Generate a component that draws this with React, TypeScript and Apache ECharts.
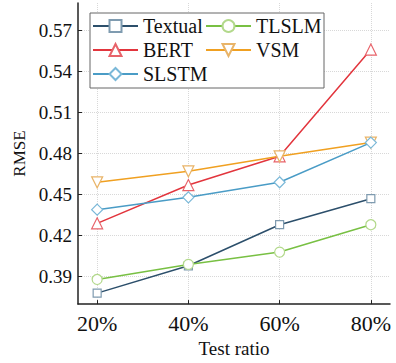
import React, { useEffect, useRef } from "react";
import * as echarts from "echarts";

const ratios = [20, 40, 60, 80];
const xTicks = [20, 40, 60, 80];
const yTicks = [0.39, 0.42, 0.45, 0.48, 0.51, 0.54, 0.57];
const textual = [0.378, 0.398, 0.428, 0.447];
const tlslm = [0.388, 0.399, 0.408, 0.428];
const bert = [0.429, 0.457, 0.478, 0.556];
const vsm = [0.459, 0.467, 0.478, 0.488];
const slstm = [0.439, 0.448, 0.459, 0.488];

const FONT = "Times New Roman, Liberation Serif, DejaVu Serif, serif";

export default function App() {
  const ref = useRef<HTMLDivElement>(null);
  useEffect(() => {
    const chart = echarts.init(ref.current!, undefined, { renderer: "svg" });
    const mk = (name: string, vals: number[], color: string, mcolor: string, symbol: string, size: number) => ({
      name,
      type: "line",
      data: ratios.map((r, i) => [r, vals[i]]),
      symbol,
      symbolSize: size,
      showAllSymbol: true,
      lineStyle: { color, width: 1.5 },
      itemStyle: { color: "#fff", borderColor: mcolor, borderWidth: 1.2 },
      emphasis: { disabled: true },
    });
    const legendCommon = {
      orient: "vertical",
      padding: 0,
      itemWidth: 45,
      itemHeight: 15,
      itemGap: 4,
      textStyle: { fontFamily: FONT, fontSize: 20, color: "#111", lineHeight: 20 },
      selectedMode: false,
    };
    chart.setOption({
      animation: false,
      textStyle: { fontFamily: FONT },
      grid: { left: 78, top: 3, right: 6, bottom: 52 },
      graphic: [
        {
          type: "rect",
          shape: { x: 90, y: 13, width: 234, height: 75 },
          style: { fill: "#fff", stroke: "#666", lineWidth: 1 },
          z: 10,
        },
      ],
      legend: [
        { ...legendCommon, left: 92, top: 16, data: ["Textual", "BERT", "SLSTM"], z: 20 },
        { ...legendCommon, left: 205, top: 16, data: ["TLSLM", "VSM"], z: 20 },
      ],
      xAxis: {
        type: "value",
        min: 15.8,
        max: 84.2,
        name: "Test ratio",
        nameLocation: "middle",
        nameGap: 28,
        nameTextStyle: { fontFamily: FONT, fontSize: 19, color: "#111" },
        axisLine: { lineStyle: { color: "#222", width: 1.5 } },
        axisTick: { customValues: xTicks, inside: true, length: 4, lineStyle: { color: "#222" } },
        axisLabel: {
          customValues: xTicks,
          formatter: (v: number) => v + "%",
          fontFamily: FONT,
          fontSize: 22,
          color: "#111",
          margin: 8,
        },
        splitLine: { show: true, lineStyle: { color: "#d8d8d8", type: "dotted", width: 1 } },
      },
      yAxis: {
        type: "value",
        min: 0.37,
        max: 0.59,
        name: "RMSE",
        nameLocation: "middle",
        nameGap: 47,
        nameTextStyle: { fontFamily: FONT, fontSize: 17, color: "#111" },
        axisLine: { show: true, lineStyle: { color: "#222", width: 1.5 } },
        axisTick: { show: true, customValues: yTicks, inside: true, length: 4, lineStyle: { color: "#222" } },
        axisLabel: {
          customValues: yTicks,
          formatter: (v: number) => v.toFixed(2),
          fontFamily: FONT,
          fontSize: 19,
          color: "#111",
          margin: 6,
        },
        splitLine: { show: true, lineStyle: { color: "#d8d8d8", type: "dotted", width: 1 } },
      },
      series: [
        mk("Textual", textual, "#2c4f6b", "#7f9bb0", "rect", 8),
        mk("TLSLM", tlslm, "#78c043", "#b3d98c", "circle", 10),
        mk("BERT", bert, "#e2353d", "#e8636a", "triangle", 11),
        mk("VSM", vsm, "#f0a021", "#e9b468", "path://M0,0 L10,0 L5,9 Z", 11),
        mk("SLSTM", slstm, "#4a9cc6", "#7ab8d8", "diamond", 11),
      ],
    });
    return () => chart.dispose();
  }, []);
  return <div ref={ref} style={{ width: 396, height: 363, position: "absolute", left: 0, top: 0 }} />;
}
